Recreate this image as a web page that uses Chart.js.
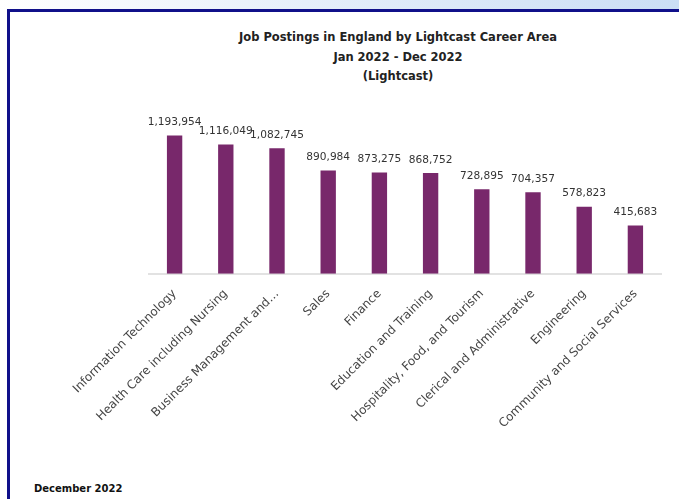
<!DOCTYPE html>
<html>
<head>
<meta charset="utf-8">
<script src="https://cdn.jsdelivr.net/npm/chart.js@4"></script>
<style>
  html, body { margin: 0; padding: 0; background: #ffffff; }
  body { width: 679px; height: 499px; position: relative; overflow: hidden; font-family: "DejaVu Sans", sans-serif; }
  #strip { position: absolute; left: 0; top: 0; width: 679px; height: 9px; background: linear-gradient(to right, #ffffff 0%, #e6effa 45%, #cbdef5 100%); }
  #topline { position: absolute; left: 7px; top: 9px; width: 672px; height: 3px; background: #10108a; }
  #leftline { position: absolute; left: 7px; top: 9px; width: 3px; height: 490px; background: #10108a; }
  #title { position: absolute; left: 198px; width: 400px; top: 28px; text-align: center; font: bold 11.5px "DejaVu Sans", sans-serif; color: #222; line-height: 19.5px; }
  #foot { position: absolute; left: 34px; top: 483px; font: bold 10px "DejaVu Sans", sans-serif; color: #111; }
  #wrap { position: absolute; left: 10px; top: 12px; }
</style>
</head>
<body>
<div id="strip"></div>
<div id="topline"></div>
<div id="leftline"></div>
<div id="title">Job Postings in England by Lightcast Career Area<br>Jan 2022 - Dec 2022<br>(Lightcast)</div>
<div id="wrap"><canvas id="c" width="669" height="470"></canvas></div>
<div id="foot">December 2022</div>
<script>
const categories = [
  "Information Technology",
  "Health Care including Nursing",
  "Business Management and\u2026",
  "Sales",
  "Finance",
  "Education and Training",
  "Hospitality, Food, and Tourism",
  "Clerical and Administrative",
  "Engineering",
  "Community and Social Services"
];
const postings = [1193954, 1116049, 1082745, 890984, 873275, 868752, 728895, 704357, 578823, 415683];
const yMax = 1500000;

const valueLabels = {
  id: 'valueLabels',
  afterDatasetsDraw(chart) {
    const ctx = chart.ctx;
    const meta = chart.getDatasetMeta(0);
    ctx.save();
    ctx.font = '10.6px "DejaVu Sans", sans-serif';
    ctx.fillStyle = '#333333';
    ctx.textAlign = 'center';
    ctx.textBaseline = 'bottom';
    meta.data.forEach((bar, i) => {
      ctx.fillText(postings[i].toLocaleString('en-US'), bar.x, bar.y - 8);
    });
    ctx.restore();
  }
};

new Chart(document.getElementById('c'), {
  type: 'bar',
  data: {
    labels: categories,
    datasets: [{
      data: postings,
      backgroundColor: '#78286b',
      barPercentage: 0.3,
      categoryPercentage: 1.0
    }]
  },
  options: {
    responsive: false,
    animation: false,
    devicePixelRatio: 1,
    layout: { padding: { left: 139, right: 18, top: 88, bottom: 46 } },
    plugins: { legend: { display: false }, title: { display: false }, tooltip: { enabled: false } },
    scales: {
      y: { display: false, min: 0, max: yMax },
      x: {
        grid: { display: false },
        border: { display: true, color: '#e2e2e2', width: 2 },
        ticks: {
          color: '#444444',
          font: { family: '"DejaVu Sans", sans-serif', size: 12 },
          maxRotation: 45,
          minRotation: 45,
          autoSkip: false,
          padding: 5
        }
      }
    }
  },
  plugins: [valueLabels]
});
</script>
</body>
</html>
